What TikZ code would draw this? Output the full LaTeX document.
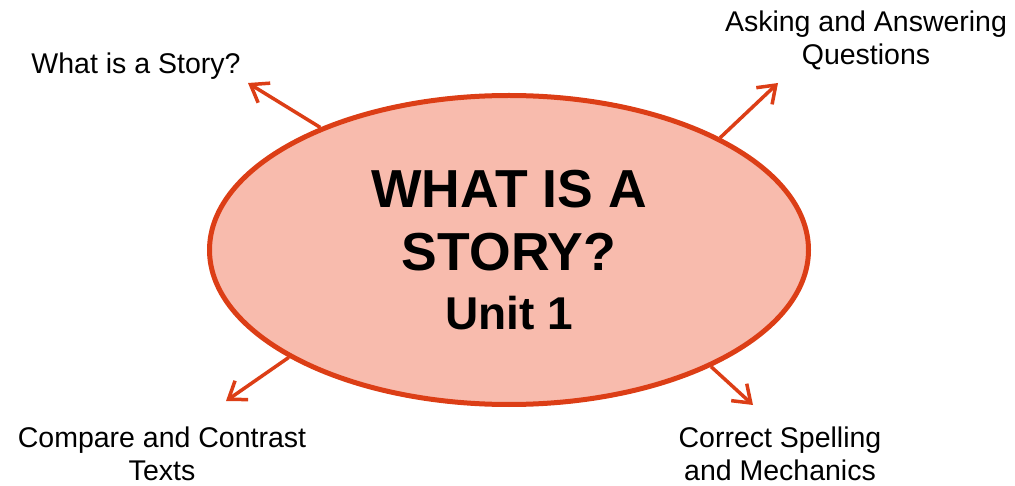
\documentclass[tikz,border=0pt]{standalone}
\usepackage{fontspec}
\setmainfont{Liberation Sans}
\usetikzlibrary{shapes.geometric, arrows.meta, positioning}
\definecolor{storyRed}{RGB}{220,62,22}
\definecolor{storyFill}{RGB}{248,187,173}
\tikzstyle{arrow} = [line width=3.5pt, draw=storyRed, -{Straight Barb[length=16pt, width=23pt]}]
\tikzstyle{topic} = [ellipse, draw=storyRed, fill=storyFill, line width=5pt, minimum width=599pt, minimum height=309pt, inner sep=0pt, align=center, font=\bfseries\fontsize{53.5}{63}\selectfont]
\tikzstyle{label} = [align=center, inner sep=0pt, anchor=north, font=\fontsize{28.5}{33}\selectfont]

\begin{document}
\begin{tikzpicture}[x=1pt, y=-1pt]
\useasboundingbox (0,0) rectangle (1015,486);
% Placement of nodes
\node (story) [topic] at (509,250) {WHAT IS A\\STORY?\\[-4pt]\fontsize{46}{54}\selectfont Unit 1};
\node (whatStory) [label] at (136,53) {What is a Story?};
\node (askAnswer) [label] at (866,11) {Asking and Answering\\Questions};
\node (compare) [label] at (162,427) {Compare and Contrast\\Texts};
\node (spelling) [label] at (780,427) {Correct Spelling\\and Mechanics};

% Arrow tips
\coordinate (tipWhat) at (248,83);
\coordinate (tipAsk) at (778,83);
\coordinate (tipCompare) at (226,401);
\coordinate (tipSpelling) at (753,405);

% Placement of edges
\draw [arrow] (story.147.7) -- (tipWhat);
\draw [arrow] (story.28) -- (tipAsk);
\draw [arrow] (story.206.8) -- (tipCompare);
\draw [arrow] (story.330) -- (tipSpelling);
\end{tikzpicture}
\end{document}
